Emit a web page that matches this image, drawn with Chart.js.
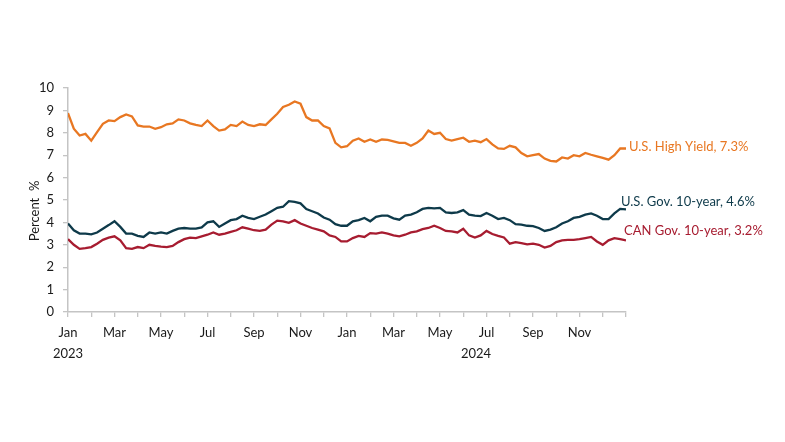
<!DOCTYPE html>
<html>
<head>
<meta charset="utf-8">
<script src="https://cdn.jsdelivr.net/npm/chart.js@4"></script>
<style>
  html, body { margin: 0; padding: 0; background: #fff; }
</style>
</head>
<body>
<canvas id="chart" width="785" height="442"></canvas>
<script>
// month tick labels, one reading every quarter month from Jan 2023 to end of Dec 2024
const monthLabels = ["Jan", "Feb", "Mar", "Apr", "May", "Jun", "Jul", "Aug", "Sep", "Oct", "Nov", "Dec"];
const years = ["2023", "2024"];
const stepMonths = 0.25;

const seriesNames = ["U.S. High Yield", "U.S. Gov. 10-year", "CAN Gov. 10-year"];

const highYield = [
  8.88, 8.18, 7.88, 7.95, 7.65, 8.03, 8.4, 8.55, 8.52, 8.7, 8.82, 8.73, 8.33, 8.28, 8.28, 8.18,
  8.25, 8.38, 8.42, 8.6, 8.55, 8.42, 8.35, 8.3, 8.55, 8.3, 8.1, 8.15, 8.35, 8.3, 8.5, 8.35,
  8.3, 8.38, 8.35, 8.6, 8.85, 9.15, 9.25, 9.4, 9.3, 8.7, 8.55, 8.55, 8.3, 8.2, 7.55, 7.35,
  7.4, 7.65, 7.75, 7.6, 7.7, 7.6, 7.7, 7.68, 7.62, 7.55, 7.55, 7.42, 7.55, 7.75, 8.1, 7.95,
  8.0, 7.72, 7.65, 7.72, 7.78, 7.6, 7.65, 7.58, 7.72, 7.48, 7.3, 7.28, 7.42, 7.35, 7.1, 6.95,
  7.0, 7.05, 6.85, 6.75, 6.72, 6.9, 6.85, 7.0, 6.95, 7.1, 7.02, 6.95, 6.88, 6.8, 7.0, 7.3, 7.3
];

const usGov10 = [
  3.95, 3.65, 3.5, 3.5, 3.47, 3.55, 3.72, 3.88, 4.05, 3.8, 3.5, 3.5, 3.4, 3.35, 3.55, 3.5,
  3.55, 3.5, 3.62, 3.72, 3.75, 3.72, 3.72, 3.78, 4.0, 4.05, 3.8, 3.95, 4.1, 4.15, 4.3, 4.2,
  4.15, 4.25, 4.35, 4.5, 4.65, 4.7, 4.95, 4.92, 4.85, 4.6, 4.5, 4.4, 4.22, 4.12, 3.92, 3.85,
  3.85, 4.05, 4.1, 4.2, 4.05, 4.25, 4.3, 4.3, 4.18, 4.12, 4.3, 4.35, 4.45, 4.6, 4.65, 4.63,
  4.65, 4.45, 4.42, 4.45, 4.55, 4.35, 4.3, 4.28, 4.42, 4.3, 4.15, 4.2, 4.1, 3.92, 3.9, 3.85,
  3.83, 3.75, 3.62, 3.68, 3.78, 3.95, 4.05, 4.2, 4.25, 4.35, 4.4, 4.3, 4.15, 4.15, 4.4, 4.6, 4.58
];

const canGov10 = [
  3.25, 3.0, 2.82, 2.85, 2.9, 3.05, 3.22, 3.32, 3.38, 3.2, 2.85, 2.82, 2.9, 2.85, 3.0, 2.95,
  2.92, 2.9, 2.95, 3.12, 3.25, 3.32, 3.3, 3.38, 3.45, 3.55, 3.45, 3.5, 3.58, 3.65, 3.78, 3.72,
  3.65, 3.62, 3.68, 3.9, 4.08, 4.05, 3.98, 4.1, 3.95, 3.85, 3.75, 3.68, 3.6, 3.42, 3.35, 3.15,
  3.15, 3.3, 3.4, 3.35, 3.52, 3.5, 3.55, 3.5, 3.42, 3.38, 3.45, 3.55, 3.6, 3.7, 3.75, 3.85,
  3.75, 3.62, 3.6, 3.55, 3.72, 3.42, 3.32, 3.42, 3.62, 3.48, 3.4, 3.33, 3.05, 3.12, 3.08, 3.02,
  3.05, 3.0, 2.88, 2.95, 3.12, 3.2, 3.22, 3.22, 3.25, 3.3, 3.35, 3.15, 3.0, 3.2, 3.3, 3.25, 3.2
];

const colors = ["#E87722", "#0E3A4A", "#A71C30"];
// where the end labels sit relative to the last point
const labelOffsets = [{ dx: 3, dy: -1.5 }, { dx: -5, dy: -8 }, { dx: -2, dy: -10 }];
const yearAt = [0, 17.55];

const FONT = "Lato";
const TEXT = "#1a1a1a";

const toPoints = arr => arr.map((v, i) => ({ x: i * stepMonths, y: v }));

const textPlugin = {
  id: "texts",
  afterDatasetsDraw(chart) {
    const { ctx, scales } = chart;
    const x = scales.x, y = scales.y;
    ctx.save();
    ctx.font = "13px " + FONT;
    ctx.textBaseline = "middle";

    chart.data.datasets.forEach((ds, i) => {
      const last = ds.data[ds.data.length - 1];
      ctx.fillStyle = ds.borderColor;
      ctx.textAlign = "left";
      ctx.fillText(seriesNames[i] + ", " + last.y.toFixed(1) + "%",
        x.getPixelForValue(last.x) + labelOffsets[i].dx,
        y.getPixelForValue(last.y) + labelOffsets[i].dy);
    });

    ctx.fillStyle = TEXT;
    ctx.textAlign = "center";
    years.forEach((yr, i) => {
      ctx.fillText(yr, x.getPixelForValue(yearAt[i]), 354);
    });

    ctx.translate(35, 211);
    ctx.rotate(-Math.PI / 2);
    ctx.fillText("Percent  %", 0, 0);
    ctx.restore();
  }
};

const ctx = document.getElementById("chart");

const myChart = new Chart(ctx, {
  type: "line",
  data: {
    datasets: [highYield, usGov10, canGov10].map((arr, i) => ({
      label: seriesNames[i],
      data: toPoints(arr),
      borderColor: colors[i],
      borderWidth: 2.3,
      pointRadius: 0,
      tension: 0,
      fill: false,
    })),
  },
  options: {
    responsive: false,
    animation: false,
    layout: { padding: { left: 0, right: 159, top: 88, bottom: 0 } },
    plugins: {
      legend: { display: false },
      tooltip: { enabled: false },
    },
    scales: {
      x: {
        type: "linear",
        min: 0,
        max: 24,
        afterFit: s => { s.height = 130; },
        ticks: {
          stepSize: 1,
          autoSkip: false,
          maxRotation: 0,
          padding: 8,
          color: TEXT,
          font: { family: FONT, size: 13 },
          callback: v => (v % 2 === 0 && v < 24 ? monthLabels[v % 12] : ""),
        },
        grid: { drawOnChartArea: false, tickLength: 5, color: "#c4c4c4", lineWidth: 1.3 },
        border: { color: "#c4c4c4", width: 1.5 },
      },
      y: {
        min: 0,
        max: 10,
        afterFit: s => { s.width = 68; },
        ticks: {
          stepSize: 1,
          padding: 9,
          color: TEXT,
          font: { family: FONT, size: 13 },
        },
        grid: { drawOnChartArea: false, tickLength: 5, color: "#c4c4c4", lineWidth: 1.3 },
        border: { color: "#c4c4c4", width: 1.5 },
      },
    },
  },
  plugins: [textPlugin],
});
</script>
</body>
</html>
